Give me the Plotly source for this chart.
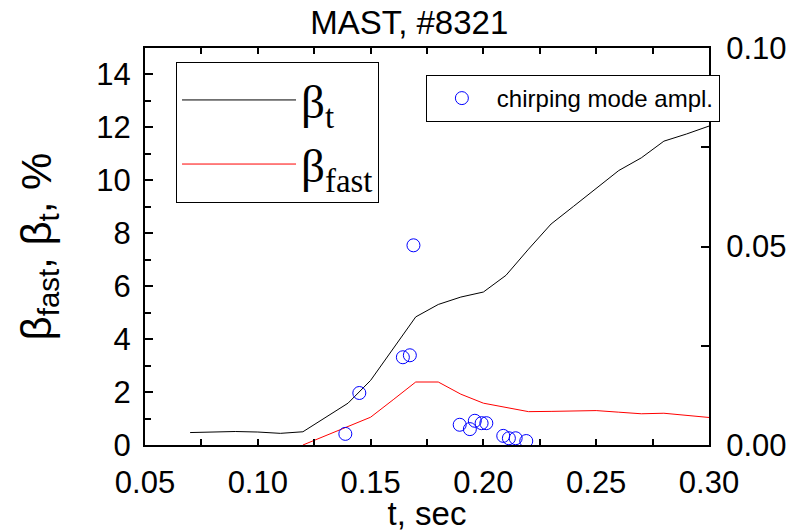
import plotly.graph_objects as go

# ---- data ----
t_beta_t = [0.07, 0.08, 0.09, 0.10, 0.11, 0.12, 0.13, 0.14, 0.15, 0.16, 0.17, 0.18,
            0.19, 0.20, 0.21, 0.22, 0.23, 0.24, 0.25, 0.26, 0.27, 0.28, 0.29, 0.30]
beta_t = [0.47, 0.50, 0.51, 0.49, 0.44, 0.50, 1.04, 1.58, 2.44, 3.64, 4.84, 5.31,
          5.59, 5.78, 6.41, 7.40, 8.35, 9.02, 9.71, 10.37, 10.85, 11.48, 11.75, 12.05]

t_beta_fast = [0.12, 0.13, 0.14, 0.15, 0.16, 0.17, 0.18, 0.19, 0.20, 0.21, 0.22,
               0.23, 0.24, 0.25, 0.26, 0.27, 0.28, 0.29, 0.30]
beta_fast = [0.0, 0.35, 0.70, 1.05, 1.71, 2.38, 2.38, 1.92, 1.58, 1.42, 1.26,
             1.27, 1.28, 1.30, 1.24, 1.18, 1.20, 1.12, 1.04]

t_chirp = [0.1388, 0.145, 0.1643, 0.1674, 0.169, 0.1895, 0.194, 0.1962, 0.1992,
           0.2013, 0.2088, 0.2113, 0.2143, 0.219]
chirp_amp = [0.0028, 0.0131, 0.0221, 0.0226, 0.0503, 0.0051, 0.0040, 0.0061, 0.0055,
             0.0055, 0.0023, 0.0017, 0.0017, 0.0010]

x_ticks = [0.05, 0.10, 0.15, 0.20, 0.25, 0.30]
y_ticks = [0, 2, 4, 6, 8, 10, 12, 14]
y2_ticks = [0.00, 0.05, 0.10]

SANS = "Liberation Sans, Arial, sans-serif"
SERIF = "Liberation Serif, Times New Roman, serif"

fig = go.Figure()
fig.add_trace(go.Scatter(x=t_beta_t, y=beta_t, mode="lines", name="β<sub>t</sub>",
                         line=dict(color="black", width=1), legend="legend"))
fig.add_trace(go.Scatter(x=t_beta_fast, y=beta_fast, mode="lines", name="β<sub>fast</sub>",
                         line=dict(color="red", width=1), legend="legend"))
fig.add_trace(go.Scatter(x=t_chirp, y=chirp_amp, mode="markers", name="chirping mode ampl.",
                         yaxis="y2", legend="legend2",
                         marker=dict(symbol="circle-open", size=13, color="#0000ff",
                                     line=dict(width=1, color="#0000ff"))))

axis_common = dict(showline=True, linecolor="black", linewidth=2, ticks="inside",
                   tickcolor="black", tickwidth=2, showgrid=False, zeroline=False,
                   automargin=False,
                   tickfont=dict(family=SANS, size=31, color="black"))

fig.update_layout(
    width=790, height=532,
    margin=dict(l=145, r=81, t=48, b=87, autoexpand=False),
    paper_bgcolor="white", plot_bgcolor="white",
    title=dict(text="MAST, #8321", x=0.518, xref="container", xanchor="center",
               y=0.958, yref="container", yanchor="middle",
               font=dict(family=SANS, size=33, color="black")),
    xaxis=dict(range=[0.05, 0.30], tickvals=x_ticks, tickformat=".2f", ticklen=6,
               mirror="ticks",
               minor=dict(dtick=0.025, ticks="inside", ticklen=6, tickwidth=2, tickcolor="black"),
               ticklabelstandoff=9,
               title=dict(text="t, sec", font=dict(family=SANS, size=33, color="black"), standoff=2),
               **axis_common),
    yaxis=dict(range=[0, 15], tickvals=y_ticks, ticklen=8,
               minor=dict(dtick=1, ticks="inside", ticklen=6, tickwidth=2, tickcolor="black"),
               ticklabelstandoff=6,
               title=dict(text="β<sub>fast</sub>, β<sub>t</sub>, %",
                          font=dict(family=SANS, size=42, color="black"), standoff=32),
               **axis_common),
    yaxis2=dict(range=[0, 0.1], tickvals=y2_ticks, tickformat=".2f", overlaying="y",
                side="right", ticklen=8,
                minor=dict(dtick=0.025, ticks="inside", ticklen=8, tickwidth=2, tickcolor="black"),
                ticklabelstandoff=9,
                **axis_common),
    legend=dict(x=0.055, y=0.965, xanchor="left", yanchor="top", bgcolor="white",
                bordercolor="black", borderwidth=1, itemwidth=114, tracegroupgap=0,
                font=dict(family=SERIF, size=47, color="black")),
    legend2=dict(x=0.498, y=0.932, xanchor="left", yanchor="top", bgcolor="white",
                 bordercolor="black", borderwidth=1, itemwidth=60,
                 font=dict(family=SANS, size=24, color="black")),
    showlegend=True,
)

fig.write_html("out.html")
